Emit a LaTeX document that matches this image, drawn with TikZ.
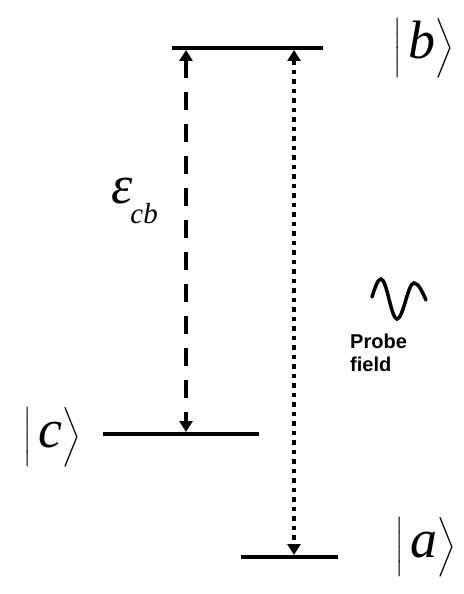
\RequirePackage{fix-cm}
\documentclass[tikz,border=0pt]{standalone}
\usepackage{amsmath}
\usepackage{fontspec}
\newfontfamily\labelfont{Liberation Sans}
\newfontfamily\ketfont{Liberation Serif}
\newcommand{\ketsym}[1]{\bigl|\,\mbox{\ketfont\itshape\fontsize{54}{54}\selectfont #1}\bigr\rangle}
\usetikzlibrary{arrows.meta}

\begin{document}
\begin{tikzpicture}[x=1pt, y=-1pt,
		% Energy levels
		level/.style={line width=4pt},
		% Transitions between the levels
		trans/.style={line width=3.5pt, {Triangle[width=13pt,length=11pt]}-{Triangle[width=13pt,length=11pt]}},
		coupling/.style={trans, dash pattern=on 18pt off 14pt},
		probe/.style={trans, dash pattern=on 4.5pt off 5pt},
		% Labels
		ket/.style={inner sep=0pt, font=\fontsize{42}{50}\selectfont},
		wave/.style={line width=3.5pt, line cap=round},
		field label/.style={font=\labelfont\bfseries\fontsize{20}{23}\selectfont, align=left, inner sep=0pt}
		]
		\useasboundingbox (0,0) rectangle (463,594);
		
		% ==============================================================================
		% Levels
		% ==============================================================================
		\coordinate (b-left) at (172,48);  \coordinate (b-right) at (323,48);
		\coordinate (c-left) at (103,434); \coordinate (c-right) at (259,434);
		\coordinate (a-left) at (241,557); \coordinate (a-right) at (338,557);
		\draw[level] (b-left) -- (b-right);
		\draw[level] (c-left) -- (c-right);
		\draw[level] (a-left) -- (a-right);
		
		\node[ket] (ket-b) at (424,48) {$\ketsym{b}$};
		\node[ket] (ket-c) at (52,437) {$\ketsym{c}$};
		\node[ket] (ket-a) at (426,547) {$\ketsym{a}$};
		
		% ==============================================================================
		% Transitions
		% ==============================================================================
		\coordinate (cb-top) at (186,50);  \coordinate (cb-bot) at (186,432);
		\coordinate (ab-top) at (294,50);  \coordinate (ab-bot) at (294,555);
		\draw[coupling] (cb-top) -- (cb-bot);
		\draw[probe] (ab-top) -- (ab-bot);
		
		\node[anchor=base west, inner sep=0pt] (eps-cb) at (111,203) {\ketfont\itshape\fontsize{54}{54}\selectfont ε\hspace{-2pt}\raisebox{-20pt}{\fontsize{29}{29}\selectfont cb}};
		
		% Probe field
		\draw[wave] (372,297) sin (381,279) cos (389,299) sin (397,319) cos (405.5,301) sin (414,283) cos (426,300);
		\node[field label, anchor=north west] (probe-lbl) at (350,334) {Probe\\field};
	\end{tikzpicture}
\end{document}
